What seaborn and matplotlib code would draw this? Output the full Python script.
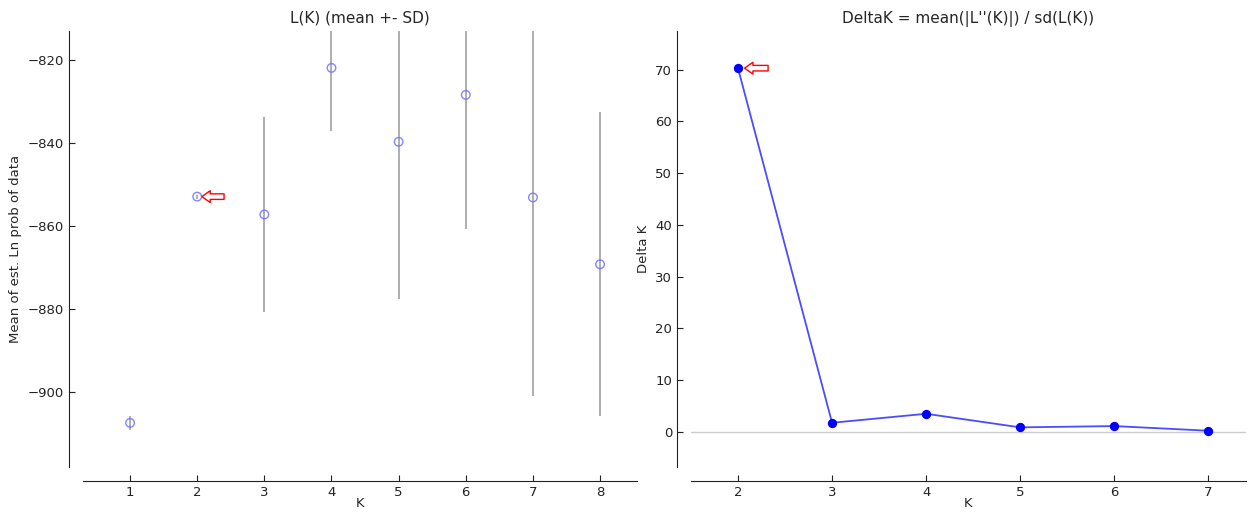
import matplotlib
matplotlib.use("Agg")
import matplotlib.pyplot as plt
import numpy as np
import pandas as pd
import seaborn as sns

# L(K) per number of clusters: mean and standard deviation over runs
k_values = [1, 2, 3, 4, 5, 6, 7, 8]
mean_lnp = [-907.4, -852.9, -857.2, -821.9, -839.7, -828.4, -853.1, -869.2]
sd_lnp = [1.7, 0.5, 23.4, 15.1, 37.9, 32.2, 47.9, 36.6]

# Evanno's Delta K
dk_k = [2, 3, 4, 5, 6, 7]
delta_k = [70.3, 1.74, 3.48, 0.85, 1.1, 0.2]

best_k = 2

sns.set_style("ticks", {"xtick.direction": "in", "ytick.direction": "in",
                        "axes.edgecolor": "#222222"})
plt.rcParams.update({
    "font.family": ["DejaVu Sans"],
    "xtick.major.size": 4,
    "ytick.major.size": 4,
    "xtick.labelsize": 9.5,
    "ytick.labelsize": 9.5,
    "axes.labelsize": 9.5,
    "axes.titlesize": 11,
})

fig = plt.figure(figsize=(12.49, 5.12), dpi=100)
ax1 = fig.add_axes([0.0665, 0.088, 0.4435, 0.8516])
ax2 = fig.add_axes([0.5532, 0.088, 0.4444, 0.8516])

lk = pd.DataFrame({"K": k_values, "mean": mean_lnp, "sd": sd_lnp})
dk = pd.DataFrame({"K": dk_k, "DeltaK": delta_k})

# Left: mean log-likelihood with +/- SD bars
ax1.vlines(lk["K"], lk["mean"] - lk["sd"], lk["mean"] + lk["sd"],
           color="#999999", linewidth=1.1, zorder=1)
sns.scatterplot(data=lk, x="K", y="mean", ax=ax1, marker="o", s=38,
                facecolor="none", edgecolor="#7070ff", linewidth=1.0,
                alpha=0.85, zorder=3)
ax1.set_xlim(0.3, 8.55)
ax1.set_ylim(-918, -813)
ax1.set_xticks(k_values)
ax1.set_yticks([-820, -840, -860, -880, -900])
ax1.set_xlabel("K", labelpad=-1)
ax1.set_ylabel("Mean of est. Ln prob of data")
ax1.set_title("L(K) (mean +- SD)", pad=6)

# Right: Delta K curve
ax2.axhline(0, color="#cccccc", linewidth=1.0, zorder=0)
sns.lineplot(data=dk, x="K", y="DeltaK", ax=ax2, color="#0000ff",
             alpha=0.7, linewidth=1.3, zorder=2)
sns.scatterplot(data=dk, x="K", y="DeltaK", ax=ax2, color="#0000ff",
                s=45, edgecolor="#0000ff", linewidth=0, zorder=3)
ax2.set_xlim(1.5, 7.4)
ax2.set_ylim(-6.8, 77.5)
ax2.set_xticks(dk_k)
ax2.set_yticks([0, 10, 20, 30, 40, 50, 60, 70])
ax2.set_xlabel("K", labelpad=-1)
ax2.set_ylabel("Delta K")
ax2.set_title("DeltaK = mean(|L''(K)|) / sd(L(K))", pad=6)

# Hollow red arrows pointing at the chosen K
arrow_style = "simple,head_width=0.85,head_length=0.6,tail_width=0.4"
best_mean = mean_lnp[k_values.index(best_k)]
ax1.annotate("", xy=(best_k + 0.07, best_mean), xytext=(best_k + 0.4, best_mean),
             arrowprops=dict(arrowstyle=arrow_style, fc="white", ec="red",
                             lw=1.0, shrinkA=0, shrinkB=0))
best_dk = delta_k[dk_k.index(best_k)]
ax2.annotate("", xy=(best_k + 0.07, best_dk), xytext=(best_k + 0.32, best_dk),
             arrowprops=dict(arrowstyle=arrow_style, fc="white", ec="red",
                             lw=1.0, shrinkA=0, shrinkB=0))

for ax in (ax1, ax2):
    sns.despine(ax=ax, offset=10)
    ax.tick_params(colors="#222222")

fig.savefig("out.png", dpi=100)
